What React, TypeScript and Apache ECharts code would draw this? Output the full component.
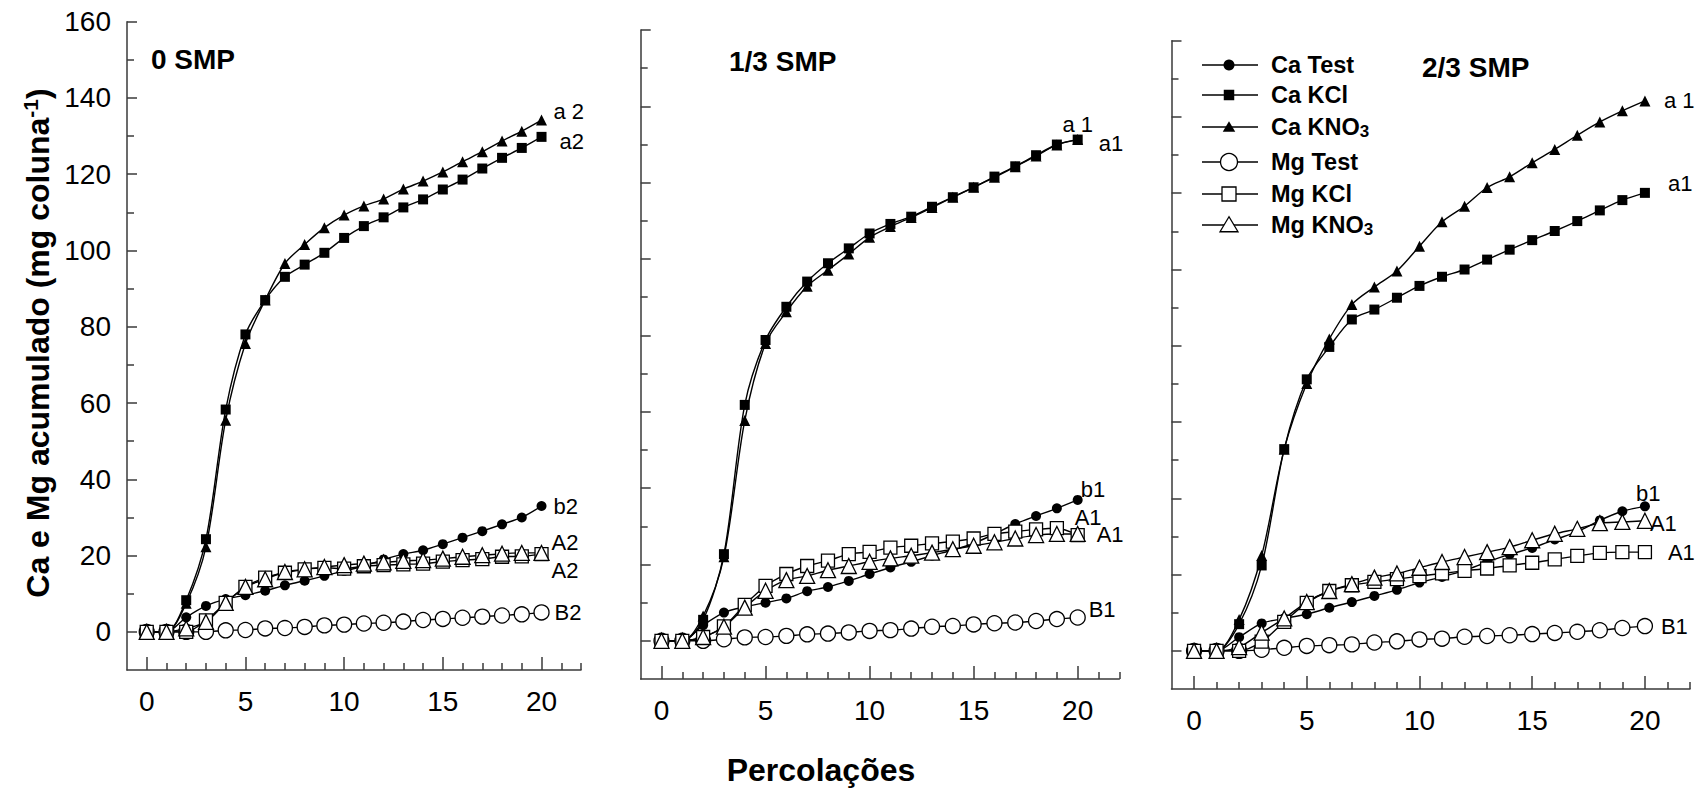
import { useEffect, useRef } from 'react';
import * as echarts from 'echarts';

// ---------- data ----------
const percolacoes = [0, 1, 2, 3, 4, 5, 6, 7, 8, 9, 10, 11, 12, 13, 14, 15, 16, 17, 18, 19, 20];
const yTickValues = [0, 20, 40, 60, 80, 100, 120, 140, 160];
const yMinorTickValues = [10, 30, 50, 70, 90, 110, 130, 150];
const xTickValues = [0, 5, 10, 15, 20];
const xMinorTickValues = [1, 2, 3, 4, 6, 7, 8, 9, 11, 12, 13, 14, 16, 17, 18, 19, 21, 22];
const panelTitles = ['0 SMP', '1/3 SMP', '2/3 SMP'];
const seriesNames = ['Ca Test', 'Ca KCl', 'Ca KNO3', 'Mg Test', 'Mg KCl', 'Mg KNO3'];
const yAxisTitle = 'Ca e Mg acumulado (mg coluna';
const xAxisTitle = 'Percolações';

// 0 SMP
const caTest0 = [0, 0, 3.8, 6.8, 8.6, 9.6, 10.8, 12.2, 13.4, 14.7, 16, 17.2, 19, 20.4, 21.4, 23, 24.7, 26.4, 28.2, 30, 33];
const caKCl0 = [0, 0, 8.3, 24.3, 58.3, 78, 87, 93.1, 96.3, 99.4, 103.3, 106.4, 108.7, 111.3, 113.4, 116, 118.6, 121.5, 124.3, 126.9, 129.8];
const caKNO30 = [0, 0, 7.5, 22.3, 55.5, 75.6, 87, 96.6, 101.6, 106, 109.3, 111.7, 113.5, 116.1, 118.2, 120.6, 123.3, 125.9, 128.7, 131.3, 134.2];
const mgTest0 = [0, 0, 0, 0, 0.4, 0.5, 0.9, 1.0, 1.3, 1.7, 1.9, 2.2, 2.4, 2.7, 3.1, 3.4, 3.7, 4.0, 4.3, 4.6, 5.1];
const mgKCl0 = [0, 0, 0, 3, 7.6, 11.8, 14.2, 15.5, 16.4, 16.8, 16.6, 17.2, 17.5, 17.7, 17.9, 18.4, 18.8, 19.1, 19.7, 19.8, 20.4];
const mgKNO30 = [0, 0, 0.9, 2.6, 7.6, 11.8, 13.8, 15.7, 16.4, 17, 17.5, 17.9, 18.2, 18.6, 18.8, 19.2, 19.7, 20.1, 20.5, 20.7, 20.7];
const endLabels0 = ['b2', 'a2', 'a 2', 'B2', 'A2', 'A2'];

// 1/3 SMP
const caTest1 = [0, 0, 4.1, 7.4, 8.9, 10, 11.1, 13, 14.1, 15.7, 17.5, 19.2, 20.7, 22.3, 23.8, 25.5, 28, 30.6, 32.7, 34.7, 36.9];
const caKCl1 = [0, 0, 5.5, 22.7, 61.8, 78.8, 87.5, 94.1, 98.9, 102.8, 106.7, 109.2, 111.1, 113.7, 116.2, 118.8, 121.6, 124.3, 127.2, 130, 131.3];
const caKNO31 = [0, 0, 6.5, 22, 57.7, 77.9, 86.2, 92.9, 97.1, 101.3, 105.7, 108.5, 110.9, 113.5, 116.2, 118.8, 121.4, 124.2, 127, 129.9, 131.3];
const mgTest1 = [0, 0, 0, 0.4, 0.9, 1.0, 1.3, 1.7, 1.9, 2.2, 2.6, 2.8, 3.2, 3.7, 3.9, 4.3, 4.6, 4.8, 5.2, 5.7, 6.1];
const mgKCl1 = [0, 0, 1, 3.8, 9.4, 14.4, 17.5, 19.6, 21, 22.7, 23.3, 24.4, 24.9, 25.5, 26, 26.8, 28, 28.6, 29.2, 29.5, 27.7];
const mgKNO31 = [0, 0, 1, 3.7, 8.7, 13.1, 15.9, 17, 18.5, 19.6, 20.7, 21.6, 22.3, 23.1, 24, 24.9, 25.8, 26.8, 27.7, 28, 28];
const endLabels1 = ['b1', 'a1', 'a 1', 'B1', 'A1', 'A1'];

// 2/3 SMP
const caTest2 = [0, 0, 3.6, 7.2, 8.5, 9.6, 11.3, 12.8, 14.4, 16, 17.9, 19.4, 21.1, 23.3, 25.3, 27, 29.2, 31.2, 34.2, 36.6, 37.9];
const caKCl2 = [0, 0, 7, 22.4, 52.9, 71.2, 79.7, 86.9, 89.5, 92.6, 95.7, 98.1, 100, 102.6, 105.2, 107.7, 110.1, 112.7, 115.5, 118.2, 120.1];
const caKNO32 = [0, 0, 8.2, 25, 52.9, 70.1, 81.8, 90.8, 95.4, 99.6, 106.1, 112.5, 116.6, 121.5, 124.3, 128, 131.5, 135.2, 138.7, 141.6, 144.2];
const mgTest2 = [0, 0, 0, 0.3, 0.8, 1.3, 1.5, 1.7, 2.2, 2.5, 3, 3.2, 3.7, 3.9, 4.1, 4.4, 4.7, 5, 5.4, 6, 6.5];
const mgKCl2 = [0, 0, 0, 2.4, 7.6, 12.6, 15.7, 17.2, 18.1, 18.8, 19.6, 20.3, 21, 21.6, 22.4, 23.1, 24, 24.9, 25.7, 25.9, 25.9];
const mgKNO32 = [0, 0, 1, 4.8, 8.5, 12.8, 15.7, 17.5, 19.2, 20.3, 21.8, 23.3, 24.6, 25.9, 27.2, 29, 30.7, 32, 33.5, 33.8, 34.1];
const endLabels2 = ['b1', 'a1', 'a 1', 'B1', 'A1', 'A1'];

// ---------- layout & style ----------
const FONT = '"Liberation Sans", Arial, Helvetica, sans-serif';
const AXIS_COLOR = '#3a3a3a';

const GRIDS = [
  { left: 127, top: 21.7, width: 454, height: 648.3 },
  { left: 640.7, top: 30, width: 478.6, height: 649 },
  { left: 1171.5, top: 40.7, width: 518.5, height: 648.3 },
];
const TITLE_POS = [
  [151, 59],
  [729, 61.5],
  [1422, 67.5],
];
// [dx, dy, align] for the end label of each series (order = seriesNames)
const LABEL_POS: [number, number, string][][] = [
  [[12, 0, 'left'], [18, 5, 'left'], [12, -9, 'left'], [13, 0, 'left'], [10, 16, 'left'], [10, -10, 'left']],
  [[3, -10, 'left'], [21, 4, 'left'], [0, -15, 'center'], [11, -8, 'left'], [-3, -18, 'left'], [19, 1, 'left']],
  [[-9, -13, 'left'], [23, -9, 'left'], [19, 0, 'left'], [16, 0, 'left'], [23, 0, 'left'], [5, 3, 'left']],
];
const SYMBOLS = [
  { symbol: 'circle', size: 10, fill: '#000' },
  { symbol: 'rect', size: 10, fill: '#000' },
  { symbol: 'triangle', size: 11, fill: '#000' },
  { symbol: 'circle', size: 15, fill: '#fff' },
  { symbol: 'rect', size: 13, fill: '#fff' },
  { symbol: 'triangle', size: 15, fill: '#fff' },
];
const DRAW_ORDER = [0, 2, 1, 3, 4, 5];
const LEGEND_Y = [65, 95, 127, 162, 194, 225];

const panelData = [
  [caTest0, caKCl0, caKNO30, mgTest0, mgKCl0, mgKNO30],
  [caTest1, caKCl1, caKNO31, mgTest1, mgKCl1, mgKNO31],
  [caTest2, caKCl2, caKNO32, mgTest2, mgKCl2, mgKNO32],
];
const panelLabels = [endLabels0, endLabels1, endLabels2];

function buildOption() {
  const xAxis: any[] = [];
  const yAxis: any[] = [];
  const series: any[] = [];
  const grid = GRIDS.map((g) => ({ ...g, containLabel: false }));

  GRIDS.forEach((_, p) => {
    xAxis.push({
      type: 'value', gridIndex: p, min: -1, max: 22, position: 'bottom',
      axisLine: { show: true, onZero: false, lineStyle: { color: AXIS_COLOR, width: 1.5 } },
      axisTick: { show: true, inside: true, length: 13, customValues: xTickValues, lineStyle: { color: AXIS_COLOR, width: 1.5 } },
      axisLabel: { show: true, customValues: xTickValues, fontSize: 28, color: '#000', fontFamily: FONT, margin: 17 },
      splitLine: { show: false },
    });
    xAxis.push({
      type: 'value', gridIndex: p, min: -1, max: 22, position: 'bottom', offset: 0,
      axisLine: { show: false, onZero: false },
      axisTick: { show: true, inside: true, length: 7, customValues: xMinorTickValues, lineStyle: { color: AXIS_COLOR, width: 1.5 } },
      axisLabel: { show: false },
      splitLine: { show: false },
    });
    yAxis.push({
      type: 'value', gridIndex: p, min: -10, max: 160, position: 'left',
      axisLine: { show: true, onZero: false, lineStyle: { color: AXIS_COLOR, width: 1.5 } },
      axisTick: { show: true, inside: true, length: 10, customValues: yTickValues, lineStyle: { color: AXIS_COLOR, width: 1.5 } },
      axisLabel: { show: p === 0, customValues: yTickValues, fontSize: 28, color: '#000', fontFamily: FONT, margin: 16 },
      splitLine: { show: false },
    });
    yAxis.push({
      type: 'value', gridIndex: p, min: -10, max: 160, position: 'left', offset: 0,
      axisLine: { show: false, onZero: false },
      axisTick: { show: true, inside: true, length: 7, customValues: yMinorTickValues, lineStyle: { color: AXIS_COLOR, width: 1.5 } },
      axisLabel: { show: false },
      splitLine: { show: false },
    });

    DRAW_ORDER.forEach((k) => {
      const vals = panelData[p][k];
      const st = SYMBOLS[k];
      const lp = LABEL_POS[p][k];
      const last = vals.length - 1;
      const data = vals.map((v, i) => {
        if (i !== last) return [percolacoes[i], v];
        return {
          value: [percolacoes[i], v],
          label: {
            show: true, position: 'inside', formatter: panelLabels[p][k],
            align: lp[2], verticalAlign: 'middle', offset: [lp[0], lp[1]],
            fontSize: 22, color: '#000', fontFamily: FONT,
          },
        };
      });
      series.push({
        type: 'line', name: seriesNames[k] + ' ' + panelTitles[p],
        xAxisIndex: p * 2, yAxisIndex: p * 2, data,
        smooth: 0.3, symbol: st.symbol, symbolSize: st.size, showAllSymbol: true,
        itemStyle: { color: st.fill, borderColor: '#000', borderWidth: st.fill === '#fff' ? 1.3 : 0 },
        lineStyle: { color: '#000', width: 1.4 },
        label: { show: false },
        emphasis: { disabled: true }, silent: true, clip: false,
      });
    });
  });

  const graphic: any[] = [];
  panelTitles.forEach((t, p) => {
    graphic.push({
      type: 'text', x: TITLE_POS[p][0], y: TITLE_POS[p][1], silent: true,
      style: { text: t, fill: '#000', font: `bold 28px ${FONT}`, align: 'left', verticalAlign: 'middle', textAlign: 'left', textVerticalAlign: 'middle' },
    });
  });
  graphic.push({
    type: 'text', x: 821, y: 770, silent: true,
    style: { text: xAxisTitle, fill: '#000', font: `bold 32px ${FONT}`, align: 'center', verticalAlign: 'middle', textAlign: 'center', textVerticalAlign: 'middle' },
  });
  graphic.push({
    type: 'text', x: 37, y: 343, rotation: Math.PI / 2, silent: true,
    style: {
      text: `{a|${yAxisTitle}}{s|-1}{a|)}`,
      fill: '#000', align: 'center', verticalAlign: 'middle', textAlign: 'center', textVerticalAlign: 'middle',
      rich: {
        a: { fontSize: 32, fontWeight: 'bold', fontFamily: FONT, lineHeight: 34, verticalAlign: 'bottom', fill: '#000' },
        s: { fontSize: 21, fontWeight: 'bold', fontFamily: FONT, lineHeight: 21, padding: [0, 0, 13, 0], verticalAlign: 'top', fill: '#000' },
      },
    },
  });

  // legend (drawn in panel 3)
  const lx1 = 1202, lx2 = 1258, sx = 1229, tx = 1271;
  seriesNames.forEach((nm, k) => {
    const y = LEGEND_Y[k];
    const st = SYMBOLS[k];
    graphic.push({ type: 'line', silent: true, shape: { x1: lx1, y1: y, x2: lx2, y2: y }, style: { stroke: '#000', lineWidth: 1.4 } });
    const sstyle = { fill: st.fill, stroke: '#000', lineWidth: st.fill === '#fff' ? 1.3 : 0 };
    if (st.symbol === 'circle') {
      const r = st.fill === '#fff' ? 8.5 : 5.5;
      graphic.push({ type: 'circle', silent: true, shape: { cx: sx, cy: y, r }, style: sstyle });
    } else if (st.symbol === 'rect') {
      const s = st.fill === '#fff' ? 14 : 10.5;
      graphic.push({ type: 'rect', silent: true, shape: { x: sx - s / 2, y: y - s / 2, width: s, height: s }, style: sstyle });
    } else {
      const w = st.fill === '#fff' ? 18 : 12.5;
      const h = st.fill === '#fff' ? 15 : 10.5;
      graphic.push({ type: 'polygon', silent: true, shape: { points: [[sx, y - h * 0.55], [sx - w / 2, y + h * 0.45], [sx + w / 2, y + h * 0.45]] }, style: sstyle });
    }
    const isNO3 = nm.endsWith('KNO3');
    const text = isNO3 ? `{b|${nm.slice(0, -1)}}{s|3}` : `{b|${nm}}`;
    graphic.push({
      type: 'text', x: tx, y, silent: true,
      style: {
        text, fill: '#000', align: 'left', verticalAlign: 'middle', textAlign: 'left', textVerticalAlign: 'middle',
        rich: {
          b: { fontSize: 23.5, fontWeight: 'bold', fontFamily: FONT, lineHeight: 25, verticalAlign: 'top', fill: '#000' },
          s: { fontSize: 17, fontWeight: 'bold', fontFamily: FONT, lineHeight: 17, padding: [12, 0, 0, 0], verticalAlign: 'bottom', fill: '#000' },
        },
      },
    });
  });

  return {
    animation: false,
    backgroundColor: '#fff',
    textStyle: { fontFamily: FONT },
    grid, xAxis, yAxis, series, graphic,
  };
}

export default function App() {
  const ref = useRef<HTMLDivElement>(null);
  useEffect(() => {
    if (!ref.current) return;
    const chart = echarts.init(ref.current, undefined, { renderer: 'svg' });
    chart.setOption(buildOption() as any);
    return () => chart.dispose();
  }, []);
  return <div ref={ref} style={{ position: 'absolute', left: 0, top: 0, width: 1697, height: 789, background: '#fff' }} />;
}
